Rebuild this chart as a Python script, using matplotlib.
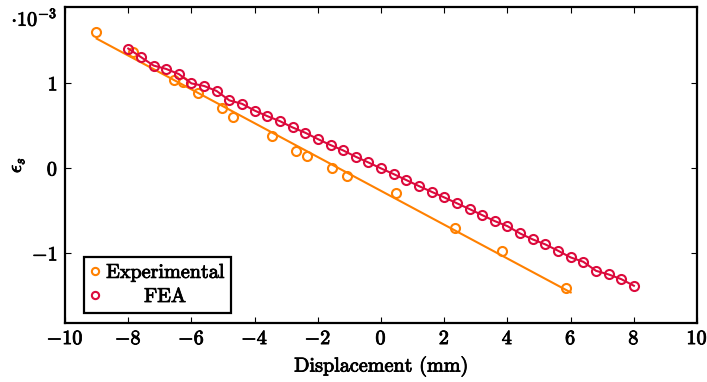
import numpy as np
import matplotlib
matplotlib.use('Agg')
import matplotlib.pyplot as plt
import matplotlib.patheffects as pe

# Data (strain in units of 1e-3)
exp_disp = [-9.02, -7.86, -6.54, -6.28, -5.80, -5.04, -4.67, -3.46, -2.70,
            -2.35, -1.54, -1.07, 0.47, 2.34, 3.82, 5.84]
exp_strain = [1.608, 1.373, 1.039, 1.012, 0.882, 0.706, 0.608, 0.380, 0.208,
              0.145, 0.000, -0.086, -0.294, -0.706, -0.973, -1.404]
exp_fit_range = [-9.0, 6.0]

fea_disp = np.arange(-8.0, 8.01, 0.4)
fea_strain = [1.41, 1.31, 1.21, 1.17, 1.11, 1.00, 0.97, 0.91, 0.80, 0.76,
              0.68, 0.615, 0.556, 0.482, 0.42, 0.345, 0.275, 0.212, 0.137, 0.07,
              0.0, -0.067, -0.137, -0.208, -0.275, -0.341, -0.41, -0.478, -0.549,
              -0.62, -0.679, -0.765, -0.835, -0.894, -0.968, -1.047, -1.098,
              -1.204, -1.247, -1.302, -1.38]

xticks = [-10, -8, -6, -4, -2, 0, 2, 4, 6, 8, 10]
yticks = [-1, 0, 1]

orange = '#FF8000'
red = '#DC0A3C'
fs = 14.5
heavy = [pe.withStroke(linewidth=0.6, foreground='black')]

plt.rcParams['font.family'] = 'cmr10'
plt.rcParams['mathtext.fontset'] = 'cm'
plt.rcParams['axes.formatter.use_mathtext'] = True
plt.rcParams['font.size'] = fs

fig = plt.figure(figsize=(7.07, 3.82), dpi=100)
ax = fig.add_axes([0.092, 0.154, 0.894, 0.828])

# linear fit for the experimental data
coef = np.polyfit(exp_disp, exp_strain, 1)
fx = np.array(exp_fit_range)
ax.plot(fx, np.polyval(coef, fx), color=orange, lw=1.5, zorder=2)
ax.plot(exp_disp, exp_strain, 'o', ms=6.5, mfc='none', mec=orange, mew=1.5,
        label='Experimental', zorder=3)

ax.plot(fea_disp, fea_strain, '-', color=red, lw=1.5, zorder=4)
ax.plot(fea_disp, fea_strain, 'o', ms=6.5, mfc='none', mec=red, mew=1.5,
        label='FEA', zorder=5)

ax.set_xlim(-10, 10)
ax.set_ylim(-1.82, 1.9)
ax.set_xticks(xticks)
ax.set_yticks(yticks)
ax.tick_params(direction='in', top=True, right=True, length=4, width=0.8,
               labelsize=fs, pad=5)
for s in ax.spines.values():
    s.set_linewidth(1.6)
for t in ax.get_xticklabels() + ax.get_yticklabels():
    t.set_path_effects(heavy)

ax.set_xlabel('Displacement (mm)', fontsize=fs, labelpad=6, path_effects=heavy)
ax.set_ylabel(r'$\epsilon_s$', fontsize=fs, labelpad=4, path_effects=heavy)
ax.text(-0.012, 0.962, r'$\cdot 10^{-3}$', transform=ax.transAxes,
        ha='right', va='center', fontsize=fs, path_effects=heavy)

leg = ax.legend(loc='lower left', bbox_to_anchor=(0.030, 0.032), borderaxespad=0,
                fancybox=False, framealpha=1, edgecolor='black',
                handlelength=0.4, handletextpad=0.35, markerscale=0.8,
                labelspacing=0.3, borderpad=0.35, fontsize=fs)
leg.get_frame().set_linewidth(1.6)
for t in leg.get_texts():
    t.set_path_effects(heavy)

# centre the FEA label under Experimental, like pgfplots does
fig.canvas.draw()
t0, t1 = leg.get_texts()
e0 = t0.get_window_extent()
e1 = t1.get_window_extent()
t1.set_color('none')
t1.set_path_effects([])
fig.text((e0.x0 + e0.x1) / 2 / fig.bbox.width, (e1.y0 + e1.y1) / 2 / fig.bbox.height,
         'FEA', ha='center', va='center', fontsize=fs, zorder=10, path_effects=heavy)

fig.savefig('out.png', dpi=100)
